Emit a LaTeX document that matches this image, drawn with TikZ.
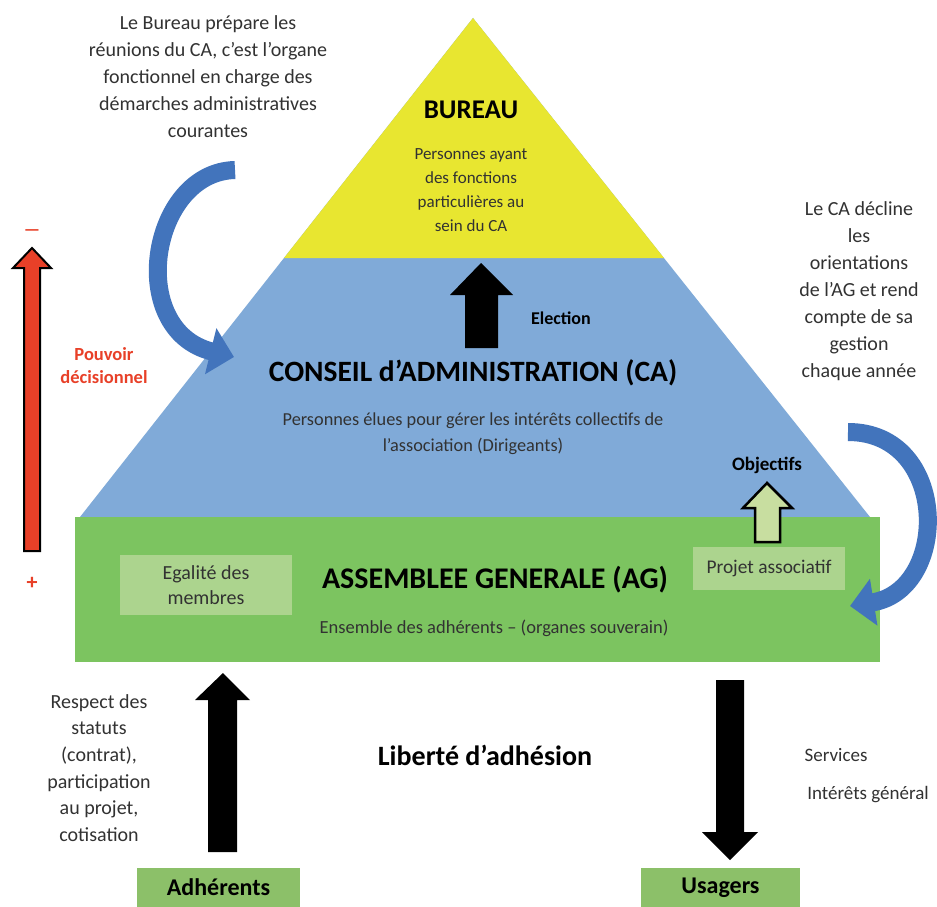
\documentclass[tikz,border=0pt]{standalone}
\usepackage{fontspec}
\setmainfont{Carlito}
\usetikzlibrary{arrows.meta}
\definecolor{pyY}{RGB}{232,230,48}
\definecolor{pyB}{RGB}{128,170,216}
\definecolor{pyG}{RGB}{124,196,96}
\definecolor{boxG}{RGB}{172,212,142}
\definecolor{botG}{RGB}{140,192,105}
\definecolor{curveB}{RGB}{66,116,188}
\definecolor{txtG}{RGB}{50,50,50}
\definecolor{redA}{RGB}{232,64,40}
\definecolor{hollowG}{RGB}{200,222,160}
\tikzset{
  body/.style={font=\fontsize{17}{24}\selectfont, text=txtG, align=center, inner sep=0pt},
  sidetxt/.style={font=\fontsize{20}{27}\selectfont, text=txtG, align=center, inner sep=0pt},
  title/.style={font=\bfseries\fontsize{27}{32}\selectfont, text=black, inner sep=0pt},
  smallbold/.style={font=\bfseries\fontsize{18}{20}\selectfont, text=black, inner sep=0pt},
  redtxt/.style={font=\bfseries\fontsize{18.5}{23}\selectfont, text=redA, align=center, inner sep=0pt},
  greenbox/.style={fill=boxG, font=\fontsize{20}{25}\selectfont, text=txtG, align=center, inner sep=0pt},
  botbox/.style={fill=botG, font=\bfseries\fontsize{24}{28}\selectfont, text=black, inner sep=0pt},
  blockarrow/.style={fill=black},
  curvearrow/.style={draw=curveB, line width=18pt, -{Triangle[width=46pt,length=24pt]}}
}
\begin{document}
\begin{tikzpicture}[x=1pt,y=-1pt]
\useasboundingbox (0,0) rectangle (937,907);
\fill[white] (0,0) rectangle (937,907);

% pyramid
\fill[pyB] (473,18) -- (80,517) -- (870,517) -- cycle;
\fill[pyY] (473,18) -- (284,258) -- (664,258) -- cycle;
\fill[pyG] (75,517) rectangle (880,662);

% curved arrows
\draw[curvearrow] (235,170) .. controls (150,172) and (125,330) .. (234,357);
\draw[curvearrow] (848,432) .. controls (950,432) and (950,590) .. (850,606);

% red power arrow
\filldraw[fill=redA, draw=black, line width=2pt, line join=miter]
  (32,248) -- (51,268) -- (40,268) -- (40,551) -- (24,551) -- (24,268) -- (13,268) -- cycle;
\node[font=\bfseries\fontsize{18}{20}\selectfont, text=redA, inner sep=0pt] (moins) at (32,233) {—};
\node[font=\bfseries\fontsize{22}{24}\selectfont, text=redA, inner sep=0pt] (plus) at (32,583) {+};
\node[redtxt] (pouvoir) at (104,366) {Pouvoir\\décisionnel};

% block arrows
\fill[blockarrow] (481,263) -- (513,295) -- (498,295) -- (498,348) -- (465,348) -- (465,295) -- (450,295) -- cycle;
\filldraw[fill=hollowG, draw=black, line width=2.5pt, line join=miter]
  (767,483) -- (792,508) -- (780,508) -- (780,542) -- (755,542) -- (755,508) -- (743,508) -- cycle;
\fill[blockarrow] (223,673) -- (250,700) -- (237,700) -- (237,852) -- (208,852) -- (208,700) -- (195,700) -- cycle;
\fill[blockarrow] (730,860) -- (758,832) -- (744,832) -- (744,680) -- (716,680) -- (716,832) -- (702,832) -- cycle;

% texts
\node[sidetxt] (bureaunote) at (208,77) {Le Bureau prépare les\\réunions du CA, c’est l’organe\\fonctionnel en charge des\\démarches administratives\\courantes};
\node[sidetxt] (canote) at (859,291) {Le CA décline\\les\\orientations\\de l’AG et rend\\compte de sa\\gestion\\chaque année};

\node[title] (bureau) at (471,110) {BUREAU};
\node[body] (bureaud) at (471,190) {Personnes ayant\\des fonctions\\particulières au\\sein du CA};
\node[smallbold] (elec) at (561,318) {Election};
\node[title, font=\bfseries\fontsize{29.5}{34}\selectfont] (ca) at (473,373) {CONSEIL d’ADMINISTRATION (CA)};
\node[body, font=\fontsize{18.3}{26}\selectfont] (cad) at (473,434) {Personnes élues pour gérer les intérêts collectifs de\\l’association (Dirigeants)};
\node[smallbold, font=\bfseries\fontsize{19}{22}\selectfont] (obj) at (767,465) {Objectifs};

\node[greenbox, minimum width=172pt, minimum height=60pt] (egal) at (206,585) {Egalité des\\membres};
\node[greenbox, font=\fontsize{19.4}{24}\selectfont, minimum width=152pt, minimum height=43pt] (projet) at (769,568) {Projet associatif};
\node[title, font=\bfseries\fontsize{30}{34}\selectfont] (ag) at (495,580) {ASSEMBLEE GENERALE (AG)};
\node[body, font=\fontsize{18.5}{24}\selectfont] (agd) at (494,628) {Ensemble des adhérents – (organes souverain)};

\node[sidetxt, font=\fontsize{20}{26.6}\selectfont] (respect) at (99,768) {Respect des\\statuts\\(contrat),\\participation\\au projet,\\cotisation};
\node[font=\bfseries\fontsize{28}{32}\selectfont, inner sep=0pt] (liberte) at (485,755) {Liberté d’adhésion};
\node[sidetxt, font=\fontsize{19}{24}\selectfont] (services) at (836,755) {Services};
\node[sidetxt, font=\fontsize{19}{24}\selectfont] (interet) at (868,795) {Intérêts général};

\node[botbox, minimum width=163pt, minimum height=39pt] (adh) at (218.5,887.5) {Adhérents};
\node[botbox, minimum width=159pt, minimum height=39pt] (usa) at (720.5,887.5) {Usagers};
\end{tikzpicture}
\end{document}
